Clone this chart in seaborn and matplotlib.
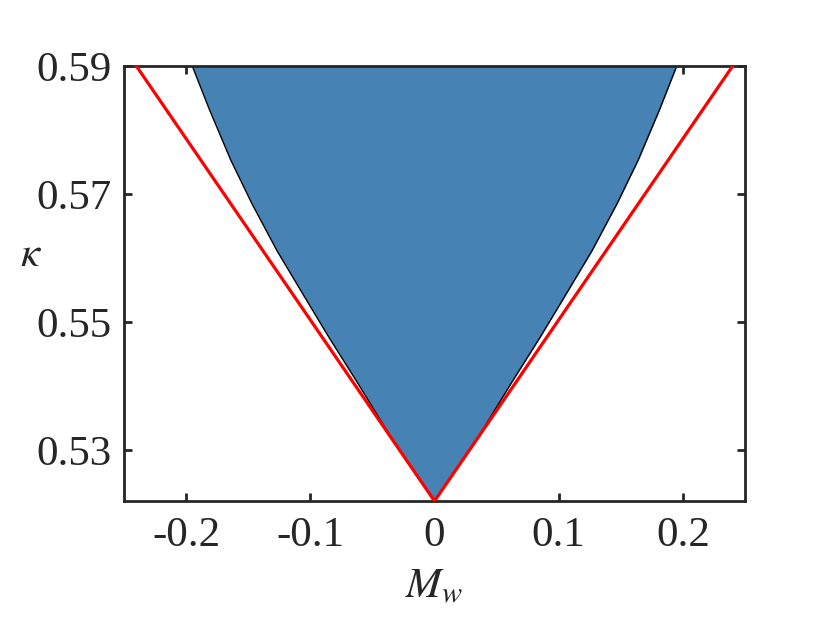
import numpy as np
import matplotlib
matplotlib.use("Agg")
import matplotlib.pyplot as plt
import seaborn as sns
import pandas as pd

# boundary of the shaded region (right half, mirrored for the left half)
mw_edge = [0.0, 0.032, 0.062, 0.085, 0.103, 0.127, 0.147, 0.164, 0.181, 0.195]
kappa_edge = [0.522, 0.5310, 0.5405, 0.5476, 0.5534, 0.5612, 0.5685, 0.5753, 0.5831, 0.590]

# red bounding lines
mw_red = [-0.24, 0.0, 0.24]
kappa_red = [0.590, 0.522, 0.590]

xticks = [-0.2, -0.1, 0, 0.1, 0.2]
xtick_labels = ["-0.2", "-0.1", "0", "0.1", "0.2"]
yticks = [0.53, 0.55, 0.57, 0.59]
ytick_labels = ["0.53", "0.55", "0.57", "0.59"]

sns.set_style("ticks")
plt.rcParams["font.family"] = ["Liberation Serif", "DejaVu Serif"]
plt.rcParams["mathtext.fontset"] = "stix"

fig = plt.figure(figsize=(8.3, 6.24), dpi=100)
ax = fig.add_axes([0.1494, 0.197, 0.7482, 0.697])

mw = np.array(mw_edge)
kap = np.array(kappa_edge)
ax.fill_betweenx(kap, -mw, mw, color="#4682b4", linewidth=0, zorder=1)
ax.plot(-mw, kap, color="black", lw=1.0, zorder=2)
ax.plot(mw, kap, color="black", lw=1.0, zorder=2)

red = pd.DataFrame({"Mw": mw_red, "kappa": kappa_red})
sns.lineplot(data=red, x="Mw", y="kappa", sort=False, color="red", lw=2.3,
             ax=ax, zorder=3, estimator=None)

ax.set_xlim(-0.25, 0.25)
ax.set_ylim(0.522, 0.59)
ax.set_xticks(xticks)
ax.set_xticklabels(xtick_labels)
ax.set_yticks(yticks)
ax.set_yticklabels(ytick_labels)

for s in ax.spines.values():
    s.set_visible(True)
    s.set_linewidth(2.0)
    s.set_color("#262626")
ax.tick_params(direction="in", length=6, width=2.0, color="#262626",
               labelsize=31, top=True, right=True, labelcolor="#262626")
ax.tick_params(axis="x", pad=11)
ax.tick_params(axis="y", pad=9)

ax.set_xlabel(r"$M_w$", fontsize=31, color="#262626")
ax.set_ylabel(r"$\kappa$", fontsize=31, rotation=0, color="#262626", va="center")
ax.xaxis.set_label_coords(0.5, -0.154)
ax.yaxis.set_label_coords(-0.15, 0.565)

fig.savefig("out.png", dpi=100)
